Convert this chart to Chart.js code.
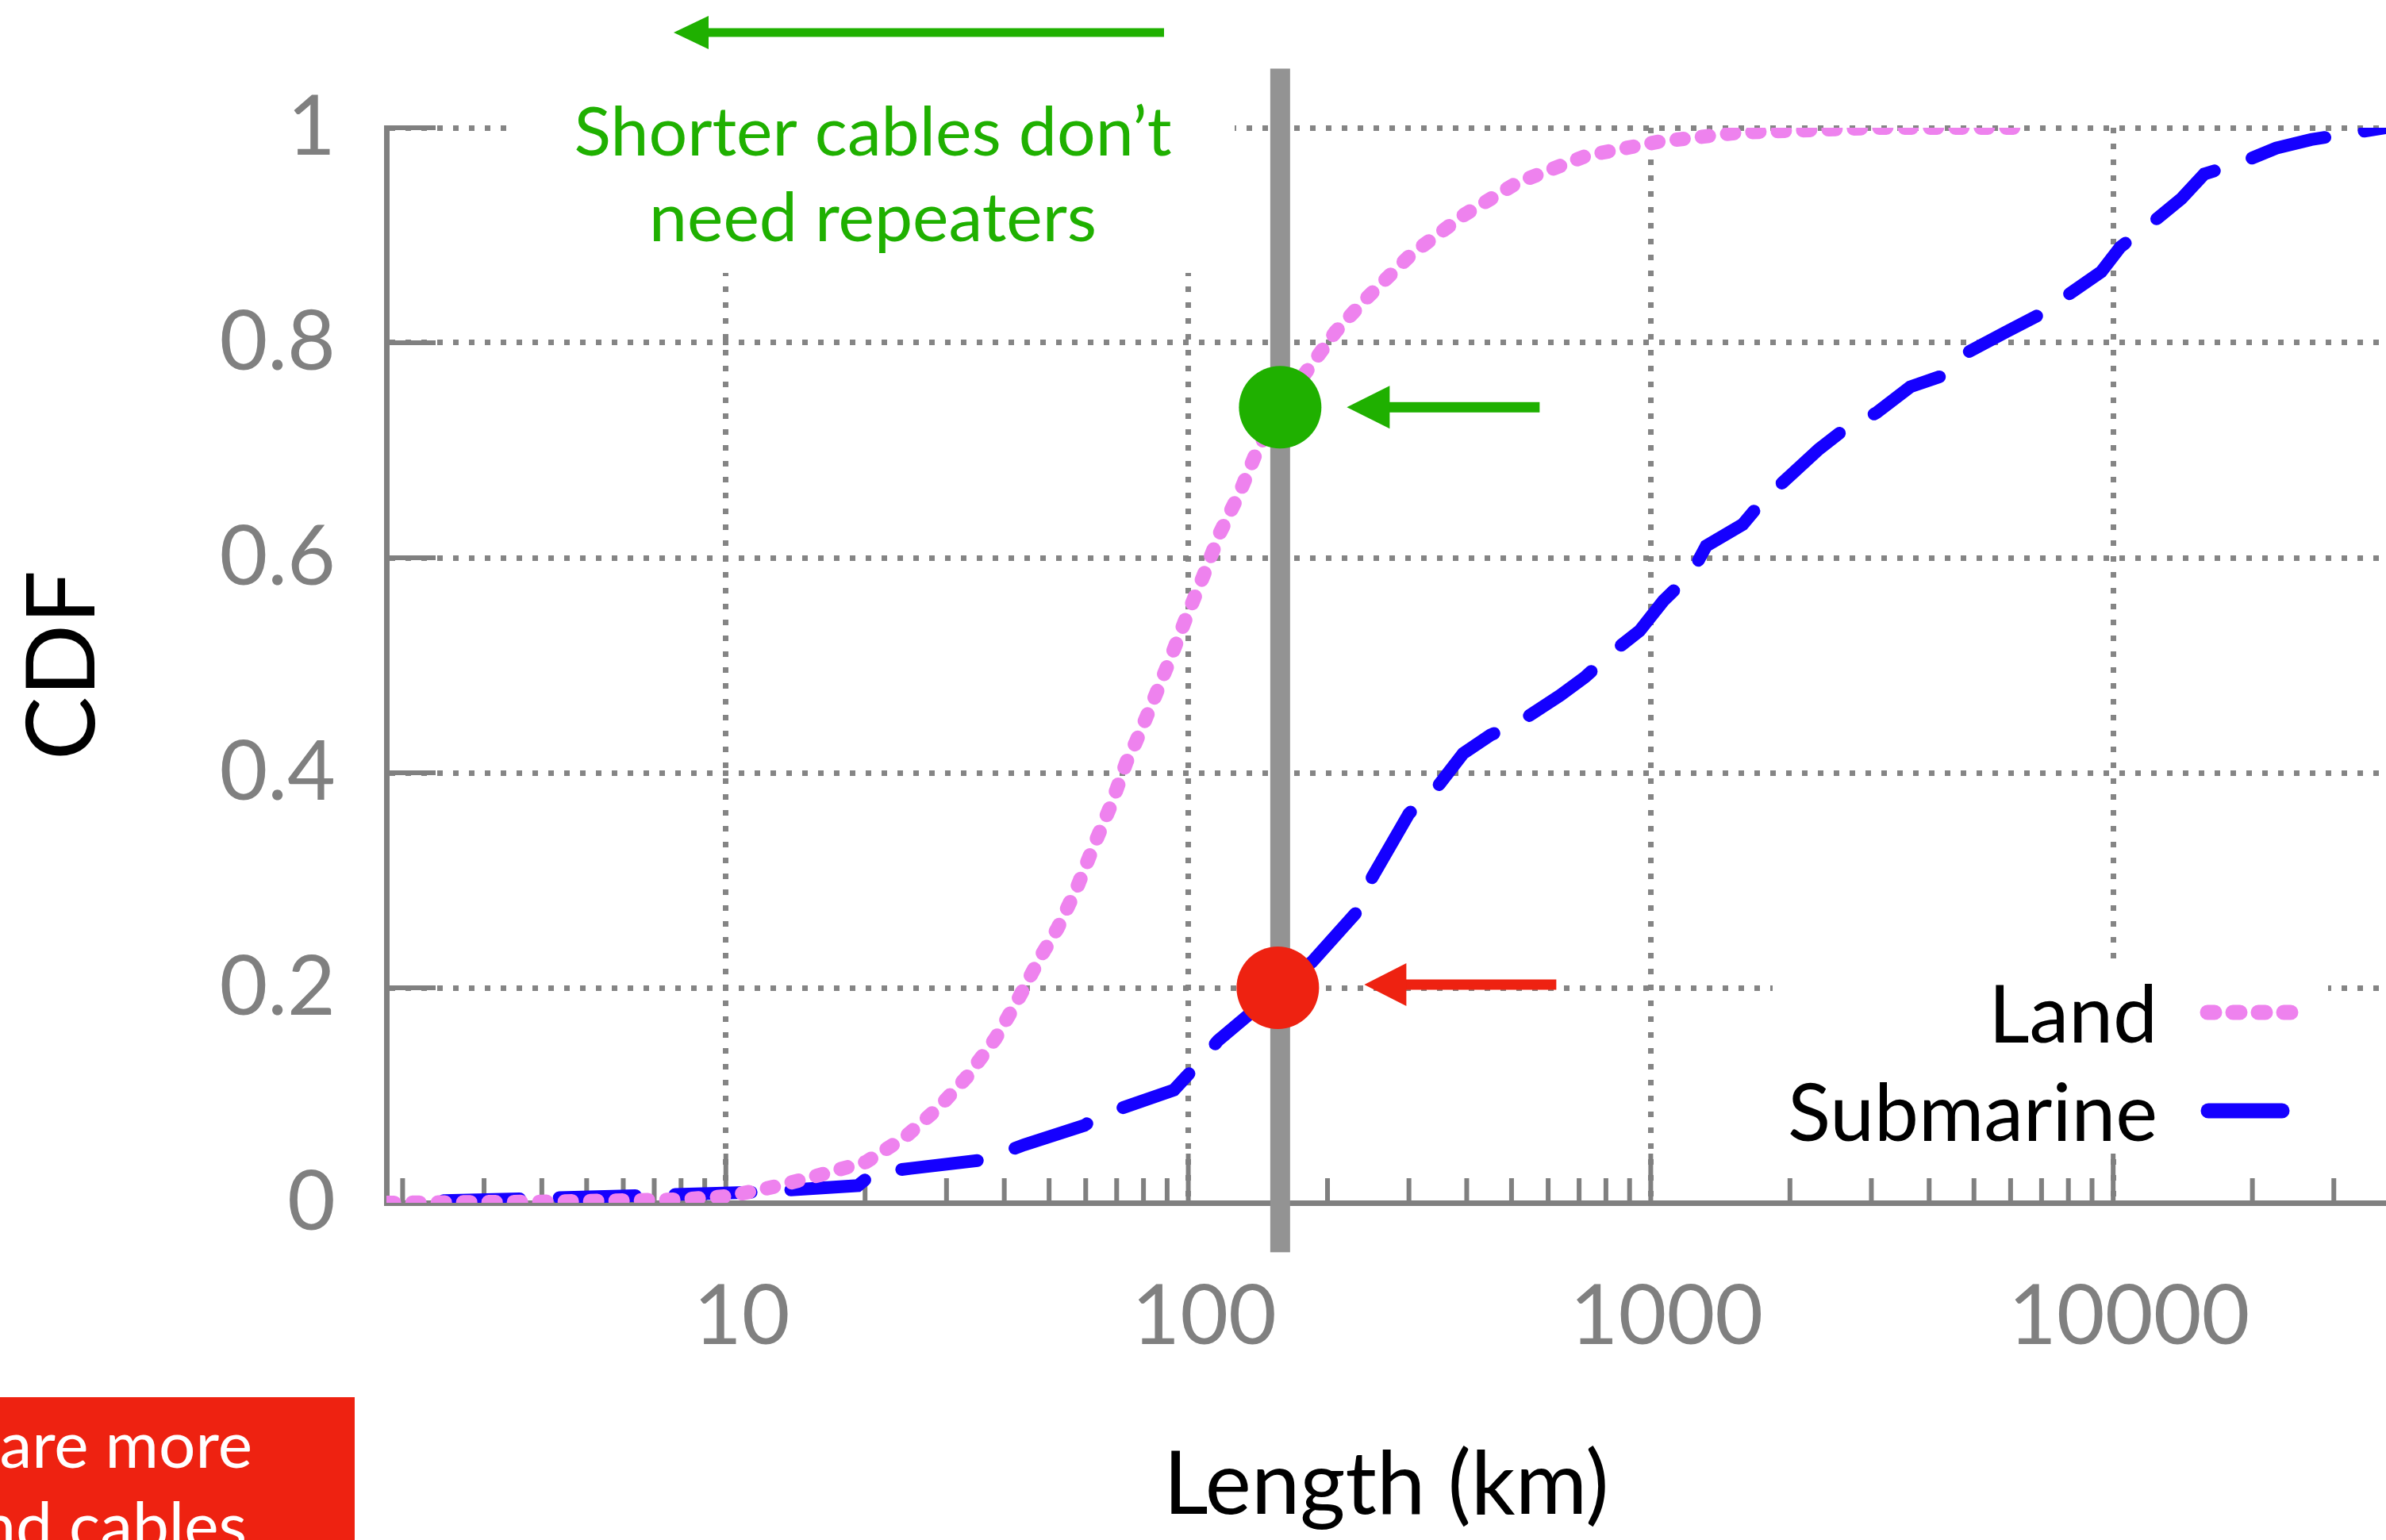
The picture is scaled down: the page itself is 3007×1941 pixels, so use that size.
<!DOCTYPE html>
<html>
<head>
<meta charset="utf-8">
<title>Cable length CDF</title>
<script src="https://cdn.jsdelivr.net/npm/chart.js@4.4.1/dist/chart.umd.min.js"></script>
<style>
    html, body { margin: 0; padding: 0; background: #fff; overflow: hidden; }
    canvas { display: block; }
</style>
</head>
<body>
<canvas id="cdf-chart" width="3007" height="1941"></canvas>
<script>
// cable length (km) and cumulative fraction
const landLength = [1.85, 4, 8, 10, 11.9, 15.1, 20.1, 24.4, 28.9, 33.2, 38.3, 42.7, 47.8, 52.1, 57.3, 62.3, 67.9, 73.5, 77.1, 83.8, 91.4, 98.9, 108, 117, 129, 140, 158, 185, 208, 241, 303, 395, 515, 726, 1040, 1549, 3070, 6100];
const landCdf = [0, 0.001, 0.003, 0.006, 0.012, 0.023, 0.038, 0.061, 0.089, 0.117, 0.153, 0.188, 0.228, 0.255, 0.292, 0.331, 0.369, 0.410, 0.429, 0.466, 0.506, 0.544, 0.584, 0.623, 0.660, 0.697, 0.740, 0.780, 0.810, 0.840, 0.882, 0.919, 0.949, 0.974, 0.987, 0.9955, 1.0, 1.0];

const subLength = [2.45, 3.77, 6.76, 11.7, 19.3, 20.9, 25.1, 36.1, 44.2, 59.6, 63.5, 76.2, 93.1, 98.8, 105, 116, 136, 158, 185, 232, 250, 300, 343, 393, 450, 532, 637, 721, 825, 946, 1065, 1223, 1318, 1581, 1738, 2020, 2310, 2632, 3080, 3640, 4320, 4840, 5860, 6840, 7950, 9420, 10360, 12080, 14040, 15740, 19000, 22500, 26800, 38900];
const subCdf = [0.002, 0.004, 0.007, 0.010, 0.016, 0.028, 0.032, 0.040, 0.054, 0.072, 0.080, 0.092, 0.105, 0.117, 0.129, 0.151, 0.176, 0.202, 0.224, 0.271, 0.303, 0.362, 0.385, 0.418, 0.435, 0.450, 0.472, 0.489, 0.512, 0.532, 0.560, 0.585, 0.611, 0.631, 0.652, 0.678, 0.701, 0.720, 0.735, 0.759, 0.770, 0.791, 0.810, 0.825, 0.844, 0.866, 0.889, 0.911, 0.934, 0.957, 0.968, 0.981, 0.989, 1.0];

const xTickValues = [10, 100, 1000, 10000];
const xTickLabels = ["10", "100", "1000", "10000"];
const yTickValues = [0, 0.2, 0.4, 0.6, 0.8, 1];
const yTickLabels = ["0", "0.2", "0.4", "0.6", "0.8", "1"];

// repeater threshold and where each curve crosses it
const repeaterLength = 158;
const landAtRepeater = 0.74;
const subAtRepeater = 0.2;

const GRAY = "#808080";
const GREEN = "#1fb000";
const RED = "#ee2211";
const FONT = "Lato, 'Open Sans', sans-serif";

const landStyle = { color: "#ee82ee", width: 18, dash: [9, 23] };
const subStyle = { color: "#1500ff", width: 16, dash: [96, 50] };

function toPoints(xs, ys) {
    return xs.map((x, i) => ({ x, y: ys[i] }));
}

function drawArrow(ctx, tipX, tailX, y, headLen, headHalf, shaft, color) {
    ctx.fillStyle = color;
    ctx.fillRect(tipX + headLen - 1, y - shaft / 2, tailX - tipX - headLen + 1, shaft);
    ctx.beginPath();
    ctx.moveTo(tipX, y);
    ctx.lineTo(tipX + headLen, y - headHalf);
    ctx.lineTo(tipX + headLen, y + headHalf);
    ctx.closePath();
    ctx.fill();
}

function drawSample(ctx, style, x0, x1, y, dashed, width) {
    ctx.save();
    ctx.strokeStyle = style.color;
    ctx.lineWidth = width;
    ctx.lineCap = "round";
    ctx.setLineDash(dashed ? style.dash : []);
    ctx.beginPath();
    ctx.moveTo(x0, y);
    ctx.lineTo(x1, y);
    ctx.stroke();
    ctx.restore();
}

const decorations = {
    id: "decorations",
    beforeDatasetsDraw(chart) {
        const { ctx, chartArea: area, scales: { x, y } } = chart;
        ctx.save();

        // white panels hiding the grid behind the note and the key
        ctx.fillStyle = "#fff";
        ctx.fillRect(643, 100, 913, 244);
        ctx.fillRect(area.right - 773, y.getPixelForValue(0.223), 700, 244);

        // inward tick marks, gnuplot style
        ctx.strokeStyle = GRAY;
        ctx.lineWidth = 6;
        ctx.beginPath();
        for (let k = 0; k <= 4; k++) {
            for (let m = 1; m <= 9; m++) {
                const v = m * Math.pow(10, k);
                if (v < x.min || v > x.max) continue;
                const px = x.getPixelForValue(v);
                ctx.moveTo(px, area.bottom);
                ctx.lineTo(px, area.bottom - (m === 1 ? 62 : 31));
            }
        }
        yTickValues.forEach(v => {
            if (v === 0) return;
            const py = y.getPixelForValue(v);
            ctx.moveTo(area.left, py);
            ctx.lineTo(area.left + 62, py);
        });
        ctx.stroke();
        ctx.restore();
    },
    afterDatasetsDraw(chart) {
        const { ctx, chartArea: area, scales: { x, y } } = chart;
        ctx.save();

        // repeater threshold line
        const lx = x.getPixelForValue(repeaterLength);
        ctx.fillStyle = "#939393";
        ctx.fillRect(lx - 12.5, y.getPixelForValue(1.055), 25, y.getPixelForValue(-0.046) - y.getPixelForValue(1.055));

        // crossing markers with their arrows
        const gy = y.getPixelForValue(landAtRepeater);
        const ry = y.getPixelForValue(subAtRepeater);
        ctx.fillStyle = GREEN;
        ctx.beginPath();
        ctx.arc(lx, gy, 52, 0, Math.PI * 2);
        ctx.fill();
        drawArrow(ctx, lx + 84, lx + 327, gy, 54, 27, 13, GREEN);

        ctx.fillStyle = RED;
        ctx.beginPath();
        ctx.arc(lx - 3, ry, 52, 0, Math.PI * 2);
        ctx.fill();
        drawArrow(ctx, lx + 106, lx + 348, ry - 4, 53, 27, 13, RED);

        // note at the top
        drawArrow(ctx, 849, 1467, 41, 44, 21, 11, GREEN);
        ctx.fillStyle = GREEN;
        ctx.font = "86px " + FONT;
        ctx.textAlign = "center";
        ctx.textBaseline = "alphabetic";
        ctx.fillText("Shorter cables don\u2019t", 1100, 196);
        ctx.fillText("need repeaters", 1100, 304);

        // key
        const keyRight = area.right - 288;
        ctx.fillStyle = "#000";
        ctx.font = "100px " + FONT;
        ctx.textAlign = "right";
        ctx.fillText(chart.data.datasets[0].label, keyRight, 1314);
        ctx.fillText(chart.data.datasets[1].label, keyRight, 1438);
        drawSample(ctx, landStyle, keyRight + 63, keyRight + 172, 1276, true, 19);
        drawSample(ctx, subStyle, keyRight + 64, keyRight + 157, 1400, false, 19);

        // red callout box cut off at the corner
        ctx.fillStyle = RED;
        ctx.fillRect(0, 1761, 447, 180);
        ctx.fillStyle = "#fff";
        ctx.font = "82px " + FONT;
        ctx.textAlign = "right";
        ctx.fillText("are more", 318, 1850);
        ctx.fillText("nd cables", 311, 1952);

        ctx.restore();
    }
};

new Chart(document.getElementById("cdf-chart"), {
    type: "line",
    data: {
        datasets: [{
            label: "Land",
            data: toPoints(landLength, landCdf),
            borderColor: landStyle.color,
            borderWidth: landStyle.width,
            borderDash: landStyle.dash,
            borderCapStyle: "round",
            pointRadius: 0,
            tension: 0,
            fill: false
        }, {
            label: "Submarine",
            data: toPoints(subLength, subCdf),
            borderColor: subStyle.color,
            borderWidth: subStyle.width,
            borderDash: subStyle.dash,
            borderCapStyle: "round",
            pointRadius: 0,
            tension: 0,
            fill: false
        }]
    },
    options: {
        responsive: false,
        animation: false,
        layout: { padding: { top: 161, left: 0, right: 0, bottom: 0 } },
        plugins: {
            legend: { display: false },
            tooltip: { enabled: false }
        },
        scales: {
            x: {
                type: "logarithmic",
                min: 1.845,
                max: 38900,
                afterBuildTicks: scale => {
                    scale.ticks = xTickValues.map(v => ({ value: v }));
                },
                afterFit: scale => { scale.height = 425; },
                ticks: {
                    callback: v => xTickLabels[xTickValues.indexOf(v)],
                    color: GRAY,
                    font: { family: FONT, size: 105 },
                    padding: 81,
                    labelOffset: 20,
                    maxRotation: 0,
                    autoSkip: false
                },
                grid: { color: "#858585", lineWidth: 7, drawTicks: false },
                border: { display: true, color: GRAY, width: 7, dash: [7, 13] },
                title: {
                    display: true,
                    text: "Length (km)",
                    color: "#000",
                    font: { family: FONT, size: 110 },
                    padding: { top: 0, bottom: 2 }
                }
            },
            y: {
                type: "linear",
                min: 0,
                max: 1,
                afterBuildTicks: scale => {
                    scale.ticks = yTickValues.map(v => ({ value: v }));
                },
                afterFit: scale => { scale.width = 487; },
                ticks: {
                    callback: v => yTickLabels[yTickValues.indexOf(v)],
                    color: GRAY,
                    font: { family: FONT, size: 105 },
                    padding: 64
                },
                grid: { color: "#858585", lineWidth: 7, drawTicks: false },
                border: { display: true, color: GRAY, width: 7, dash: [7, 13] },
                title: {
                    display: true,
                    text: "CDF",
                    color: "#000",
                    font: { family: FONT, size: 120 },
                    padding: { top: 8, bottom: 0 }
                }
            }
        }
    },
    plugins: [decorations]
});
</script>
</body>
</html>
